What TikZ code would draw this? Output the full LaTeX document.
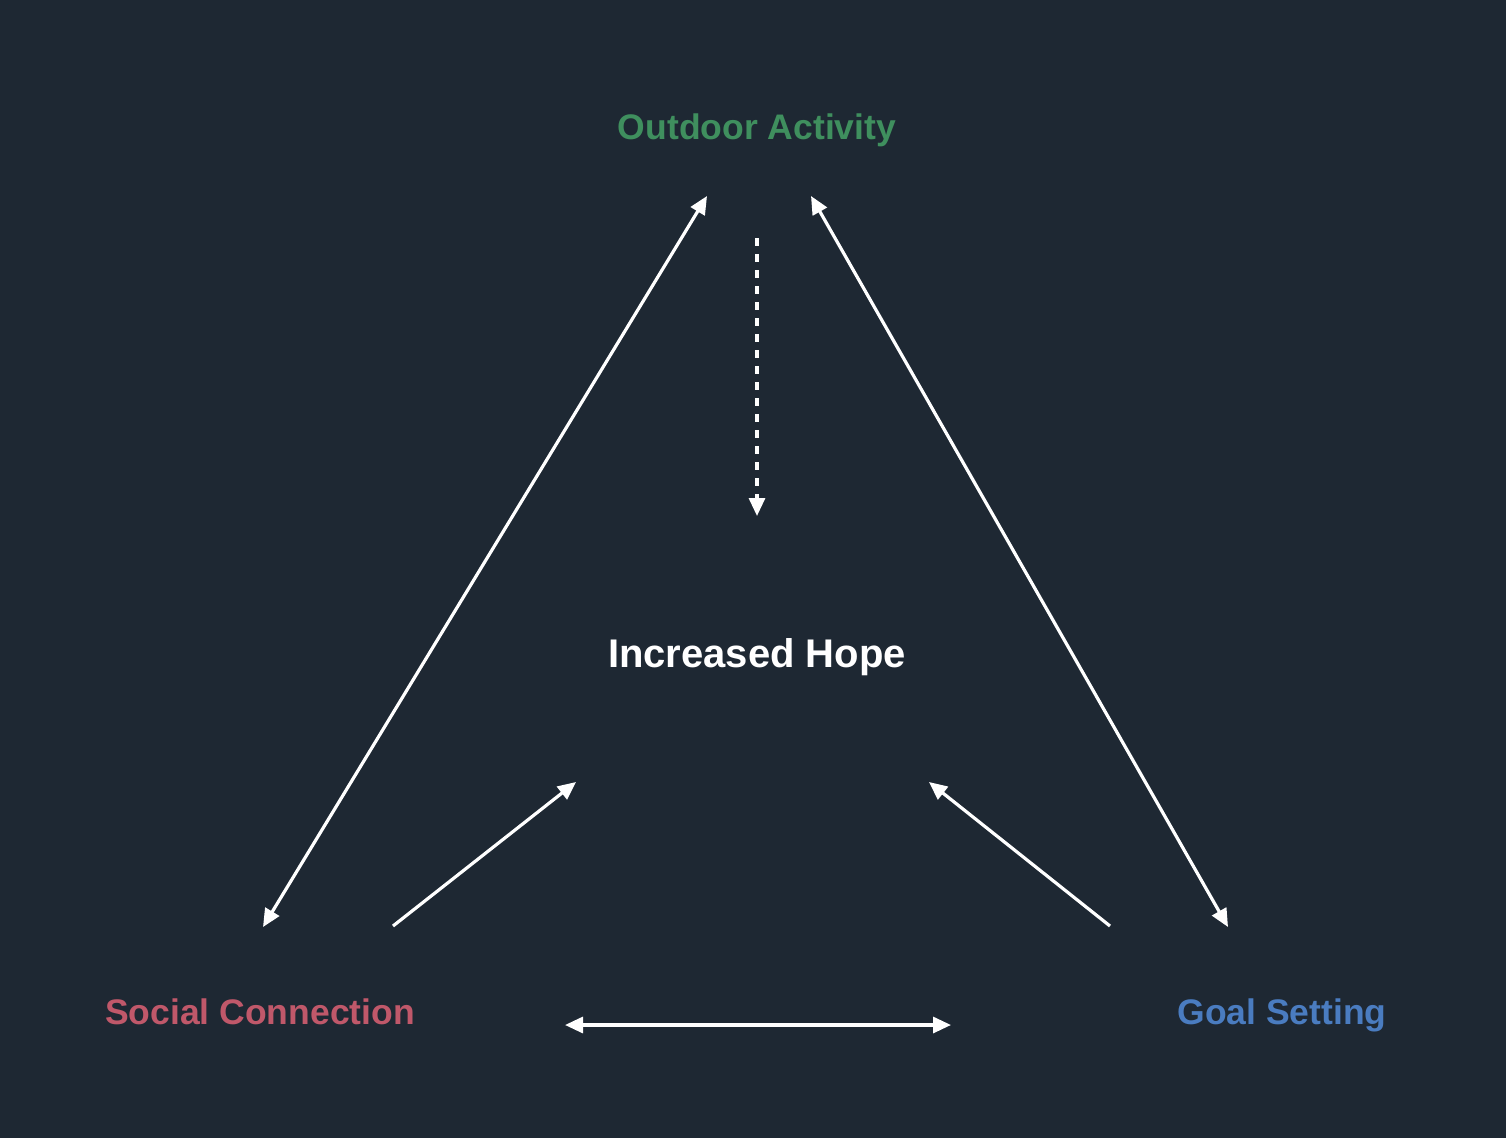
\documentclass[tikz,border=0pt]{standalone}
\usepackage{fontspec}
\setmainfont{Liberation Sans}
\usetikzlibrary{arrows.meta}
\definecolor{bg}{HTML}{1E2833}
\definecolor{cgreen}{HTML}{3F8F5E}
\definecolor{cred}{HTML}{C0586A}
\definecolor{cblue}{HTML}{4A7CC0}
\tikzset{
  lbl/.style={font=\bfseries\fontsize{35.5}{40}\selectfont, inner sep=0pt, anchor=base},
  conn/.style={draw=white, line width=3.2pt, -{Triangle[length=18pt,width=16pt]}},
  biconn/.style={draw=white, line width=3.2pt, {Triangle[length=18pt,width=16pt]}-{Triangle[length=18pt,width=16pt]}},
  dashconn/.style={conn, dash pattern=on 8pt off 8pt}
}
\begin{document}
\begin{tikzpicture}[x=1pt,y=-1pt]
\fill[bg] (0,0) rectangle (1506,1138);
\useasboundingbox (0,0) rectangle (1506,1138);
\node[lbl, text=cgreen] (oa) at (757,139) {Outdoor Activity};
\node[lbl, text=white, font=\bfseries\fontsize{40}{44}\selectfont] (ih) at (757,667) {Increased Hope};
\node[lbl, text=cred] (sc) at (260,1024) {Social Connection};
\node[lbl, text=cblue] (gs) at (1282,1024) {Goal Setting};
% endpoints
\coordinate (oaL) at (707,196);
\coordinate (oaR) at (811,196);
\coordinate (scT) at (263,927);
\coordinate (gsT) at (1228,927);
\coordinate (oaD) at (757,238);
\coordinate (ihT) at (757,516);
\coordinate (scR) at (393,926);
\coordinate (ihL) at (576,782);
\coordinate (gsL) at (1110,926);
\coordinate (ihR) at (929,782);
\coordinate (bL) at (565,1025);
\coordinate (bR) at (951,1025);
\draw[biconn] (oaL) -- (scT);
\draw[biconn] (oaR) -- (gsT);
\draw[dashconn] (oaD) -- (ihT);
\draw[conn] (scR) -- (ihL);
\draw[conn] (gsL) -- (ihR);
\draw[biconn] (bL) -- (bR);
\end{tikzpicture}
\end{document}
